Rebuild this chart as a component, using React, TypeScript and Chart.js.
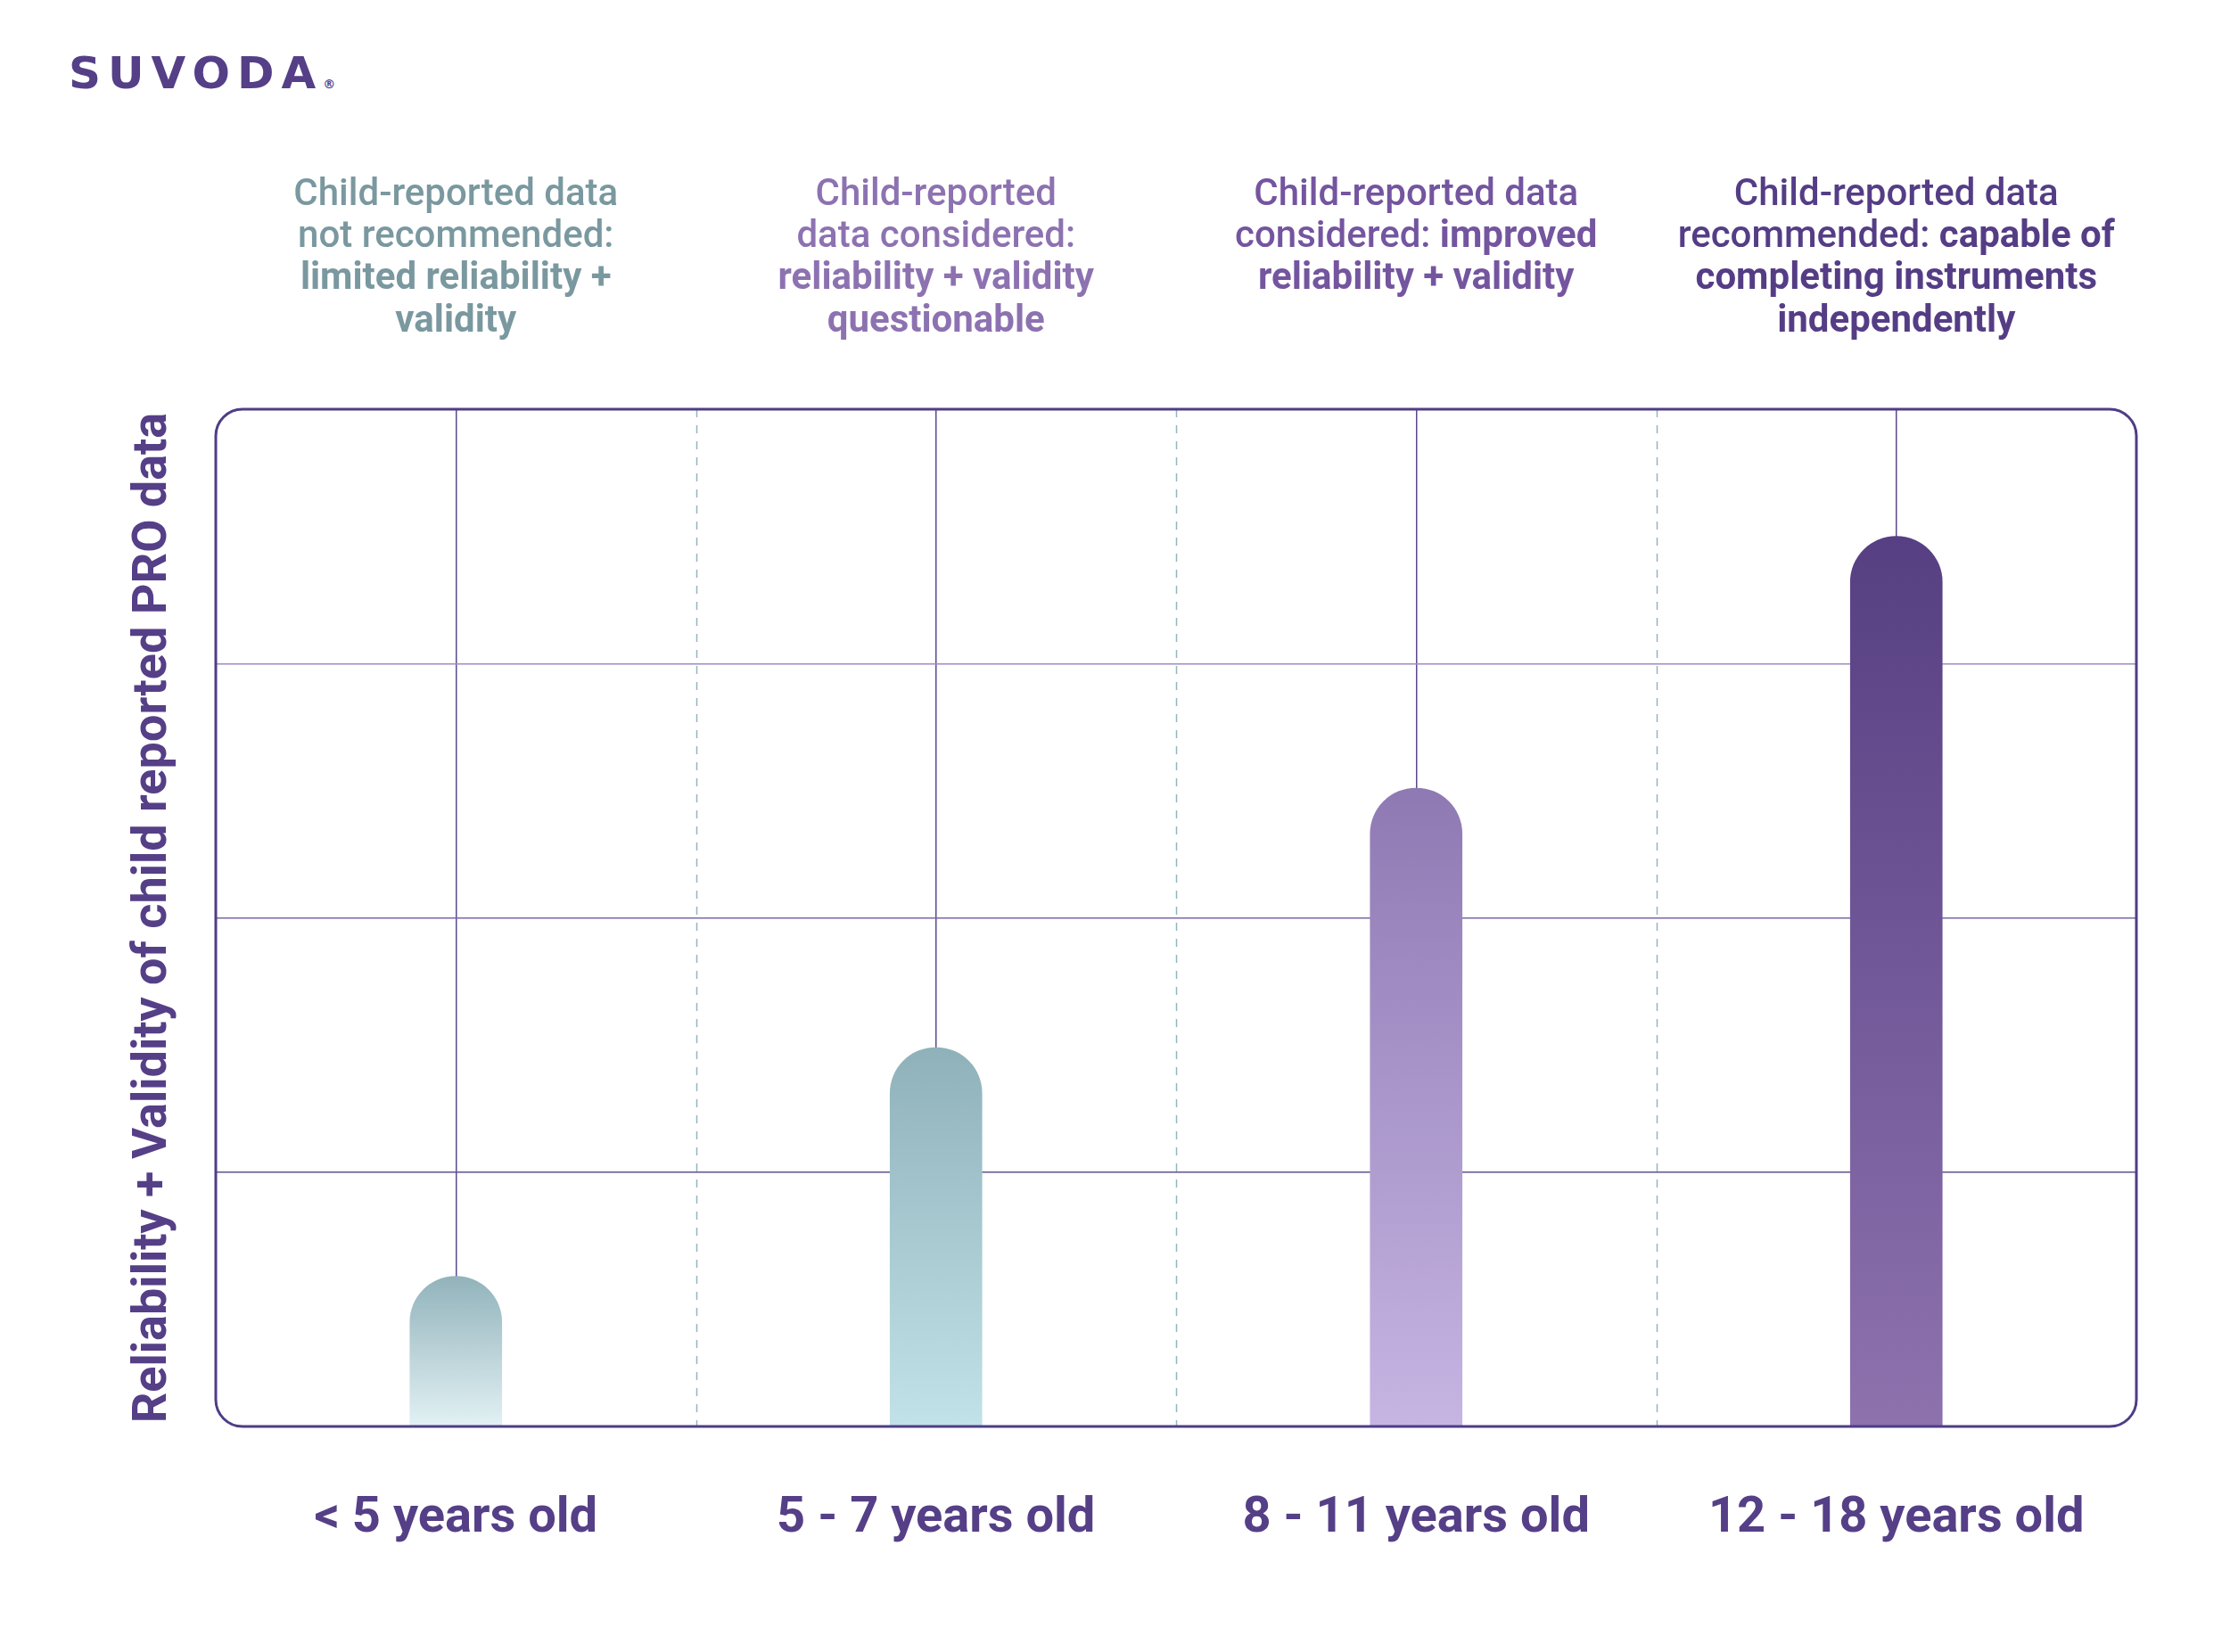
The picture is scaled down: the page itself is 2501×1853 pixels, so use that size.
import React, { useEffect, useRef } from "react";
import { Chart, registerables } from "chart.js";

Chart.register(...registerables);

const categories = ["< 5 years old", "5 - 7 years old", "8 - 11 years old", "12 - 18 years old"];
const values = [0.59, 1.49, 2.51, 3.5];
const topColors = ["#92b3bb", "#8fb1ba", "#8f79b3", "#563f82"];
const bottomColors = ["#e2f1f4", "#c1e2e8", "#c6b5e3", "#8d72ae"];
const noteColors = ["#7a989f", "#8d72b1", "#74559f", "#553d86"];
// each note: lines of [text, bold]
const notes: [string, boolean][][][] = [
  [[["Child-reported data", false]], [["not recommended:", false]], [["limited reliability +", true]], [["validity", true]]],
  [[["Child-reported", false]], [["data considered:", false]], [["reliability + validity", true]], [["questionable", true]]],
  [[["Child-reported data", false]], [["considered: ", false], ["improved", true]], [["reliability + validity", true]]],
  [[["Child-reported data", false]], [["recommended: ", false], ["capable of", true]], [["completing instruments", true]], [["independently", true]]],
];
const yTitle = "Reliability + Validity of child reported PRO data";
const yMax = 4;

const PURPLE = "#553f87";
const FONT = "Roboto, 'Noto Sans', sans-serif";

const decorPlugin = {
  id: "decor",
  beforeDatasetsDraw(chart: any) {
    const { ctx, chartArea, scales } = chart;
    const xs = scales.x;
    ctx.save();
    ctx.strokeStyle = "#93b5bf";
    ctx.lineWidth = 1.5;
    ctx.setLineDash([9, 9]);
    for (let i = 0; i < categories.length - 1; i++) {
      const x = (xs.getPixelForValue(i) + xs.getPixelForValue(i + 1)) / 2;
      ctx.beginPath();
      ctx.moveTo(Math.round(x) + 0.5, chartArea.top);
      ctx.lineTo(Math.round(x) + 0.5, chartArea.bottom);
      ctx.stroke();
    }
    ctx.restore();
  },
  afterDatasetsDraw(chart: any) {
    const { ctx, chartArea } = chart;
    ctx.save();
    ctx.strokeStyle = "#4f3d85";
    ctx.lineWidth = 3;
    ctx.beginPath();
    (ctx as any).roundRect(chartArea.left, chartArea.top, chartArea.right - chartArea.left, chartArea.bottom - chartArea.top, 30);
    ctx.stroke();
    ctx.restore();
  },
  afterDraw(chart: any) {
    const { ctx, chartArea, scales } = chart;
    const xs = scales.x;
    ctx.save();
    ctx.textBaseline = "middle";
    ctx.textAlign = "left";
    const regular = `500 42px ${FONT}`;
    const bold = `700 42px ${FONT}`;
    notes.forEach((lines, i) => {
      const cx = xs.getPixelForValue(i);
      ctx.fillStyle = noteColors[i];
      lines.forEach((segs, li) => {
        const y = chartArea.top - 240 + li * 47.4;
        let total = 0;
        segs.forEach(([t, b]) => {
          ctx.font = b ? bold : regular;
          total += ctx.measureText(t).width;
        });
        let x = cx - total / 2;
        segs.forEach(([t, b]) => {
          ctx.font = b ? bold : regular;
          ctx.fillText(t, x, y);
          x += ctx.measureText(t).width;
        });
      });
    });
    ctx.restore();
  },
};

export default function App() {
  const ref = useRef<HTMLCanvasElement>(null);
  useEffect(() => {
    if (!ref.current) return;
    const chart = new Chart(ref.current, {
      type: "bar",
      data: {
        labels: categories,
        datasets: [
          {
            data: values,
            barThickness: 103,
            borderRadius: { topLeft: 52, topRight: 52, bottomLeft: 0, bottomRight: 0 },
            borderSkipped: false,
            backgroundColor: (c: any) => {
              const i = c.dataIndex;
              const chart = c.chart;
              const sc = chart.scales && chart.scales.y;
              if (!chart.chartArea || !sc || i === undefined) return bottomColors[i ?? 0];
              const y0 = sc.getPixelForValue(0);
              const y1 = sc.getPixelForValue(values[i]);
              const g = chart.ctx.createLinearGradient(0, y1, 0, y0);
              g.addColorStop(0, topColors[i]);
              g.addColorStop(1, bottomColors[i]);
              return g;
            },
          },
        ],
      },
      options: {
        responsive: false,
        animation: false,
        devicePixelRatio: 1,
        layout: { padding: { top: 459, right: 105, left: 0, bottom: 0 } },
        plugins: { legend: { display: false }, tooltip: { enabled: false } },
        scales: {
          x: {
            afterFit: (s: any) => {
              s.height = 253;
            },
            border: { display: false },
            grid: { offset: false, color: "#5b4a8e", lineWidth: 1.5, drawTicks: false },
            ticks: { color: PURPLE, font: { family: FONT, size: 56, weight: "bold" }, padding: 70 },
          },
          y: {
            min: 0,
            max: yMax,
            afterFit: (s: any) => {
              s.width = 242;
            },
            border: { display: false },
            ticks: { display: false, stepSize: 1 },
            grid: {
              drawTicks: false,
              lineWidth: 1.5,
              color: (c: any) => {
                const v = c.tick ? c.tick.value : 0;
                if (v === 1) return "#5f5190";
                if (v === 2) return "#7a67a6";
                if (v === 3) return "#9d8cc2";
                return "rgba(0,0,0,0)";
              },
            },
            title: {
              display: true,
              text: yTitle,
              color: PURPLE,
              font: { family: FONT, size: 54, weight: "bold" },
              padding: { top: 140, bottom: 0 },
            },
          },
        },
      },
      plugins: [decorPlugin],
    });
    return () => chart.destroy();
  }, []);
  return (
    <div style={{ position: "absolute", left: 0, top: 0, width: 2501, height: 1853, background: "#fff" }}>
      <div
        style={{
          position: "absolute",
          left: 77,
          top: 52,
          fontFamily: "'DejaVu Sans', sans-serif",
          fontWeight: 700,
          fontSize: 50,
          letterSpacing: 8,
          color: PURPLE,
          lineHeight: "60px",
        }}
      >
        SUVODA<span style={{ fontSize: 14, letterSpacing: 0, verticalAlign: "baseline" }}>®</span>
      </div>
      <canvas ref={ref} width={2501} height={1853} style={{ position: "absolute", left: 0, top: 0 }} />
    </div>
  );
}
